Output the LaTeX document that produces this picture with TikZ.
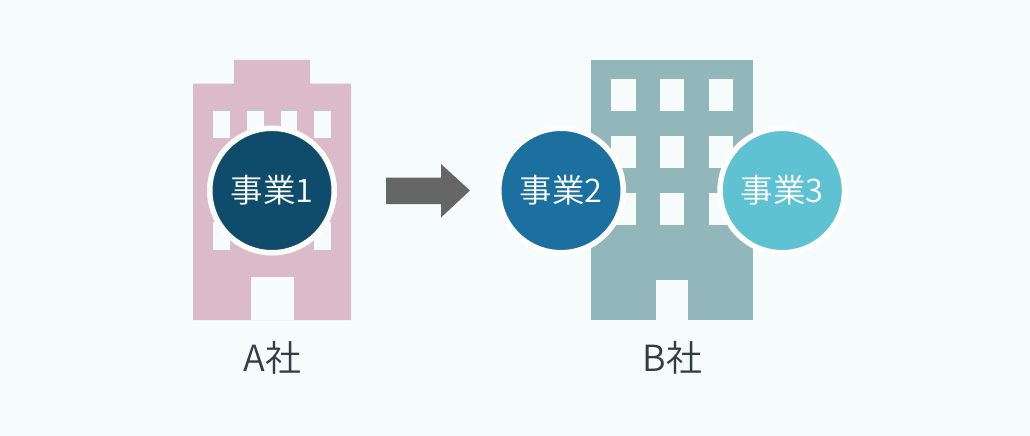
\documentclass[tikz,border=0pt]{standalone}
\usepackage{fontspec}
\setmainfont{Noto Sans CJK JP}
\newfontfamily\lightf{Noto Sans CJK JP DemiLight}
\definecolor{bg}{HTML}{F6FCFC}
\definecolor{pinkb}{HTML}{DBBAC9}
\definecolor{tealb}{HTML}{92B7BB}
\definecolor{ca}{HTML}{0F4C6C}
\definecolor{cb}{HTML}{1B70A0}
\definecolor{cc}{HTML}{5FC2D2}
\definecolor{arrowc}{HTML}{666666}
\definecolor{labelc}{HTML}{333B47}
\tikzset{x=1pt,y=-1pt,
 biz/.style={circle,inner sep=0pt,minimum size=124.5pt,draw=white,line width=5.5pt,text=white,font=\lightf\fontsize{32.5}{32.5}\selectfont},
 corp/.style={inner sep=0pt,text=labelc,font=\lightf\fontsize{36}{36}\selectfont}}
\newcommand{\win}[4]{\fill[bg] (#1,#3) rectangle (#2,#4);}
\begin{document}
\begin{tikzpicture}
\useasboundingbox (0,0) rectangle (1030,436);
\fill[bg] (0,0) rectangle (1030,436);
% building A
\fill[pinkb] (193,320) -- (193,83.5) -- (234,83.5) -- (234,60) -- (310,60) -- (310,83.5) -- (351,83.5) -- (351,320) -- cycle;
\win{212.7}{229.7}{111}{138}\win{246.7}{263.5}{111}{138}\win{280.7}{297.3}{111}{138}\win{314.3}{331}{111}{138}
\win{212.7}{229.7}{222}{250}\win{314.3}{331}{222}{250}
\win{250.7}{293.5}{277}{320}
% building B
\fill[tealb] (590.7,60) rectangle (753,320);
\foreach \ya/\yb in {79/111,136/168,193/225}{
 \win{611}{635.5}{\ya}{\yb}\win{660}{684}{\ya}{\yb}\win{708.5}{733}{\ya}{\yb}}
\win{656}{688}{279.5}{320}
% arrow
\fill[arrowc] (386,177.7) -- (441,177.7) -- (441,164) -- (470,190.5) -- (441,217.5) -- (441,204) -- (386,204) -- cycle;
% circles
\node[biz,fill=ca] (j1) at (272,190.5) {事業1};
\node[biz,fill=cb] (j2) at (561,190.5) {事業2};
\node[biz,fill=cc] (j3) at (782.3,190.5) {事業3};
\node[corp] (ca) at (272.5,358) {A社};
\node[corp] (cb) at (672.5,358) {B社};
\end{tikzpicture}
\end{document}
